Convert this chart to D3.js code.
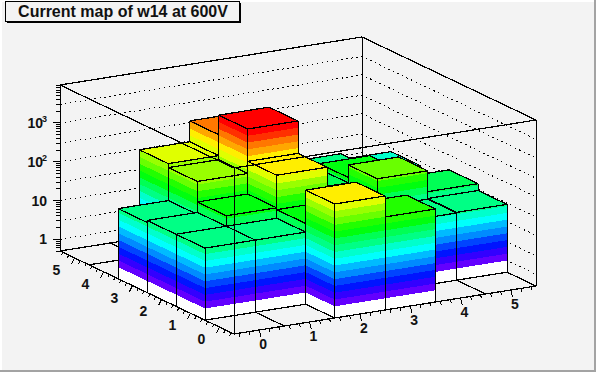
<!DOCTYPE html>
<html>
<head>
<meta charset="utf-8">
<script src="https://cdn.jsdelivr.net/npm/d3@7"></script>
<style>
	html, body { margin: 0; padding: 0; background: #f3f3f3; }
	svg { display: block; }
	text { font-family: "Liberation Sans", Arial, sans-serif; font-weight: bold; fill: #111; }
</style>
</head>
<body>
<div id="chart"></div>
<script>
var titleText = "Current map of w14 at 600V";

// bin contents, one array per x bin, y bins 0..5. zero means an empty cell
var xBins = [0, 1, 2, 3, 4, 5];
var yBins = [0, 1, 2, 3, 4, 5];
var column0 = [0, 36, 36, 32, 0, 0];
var column1 = [0, 36, 67, 226, 287, 0];
var column2 = [434, 60, 463, 3170, 993, 0];
var column3 = [125, 50, 50, 50, 40, 0];
var column4 = [0, 27, 145, 69, 34, 0];
var column5 = [0, 28, 42, 20, 24, 0];
var columns = [column0, column1, column2, column3, column4, column5];

// axes
var xTickValues = [0, 1, 2, 3, 4, 5];
var yTickValues = [0, 1, 2, 3, 4, 5];
var zMajorTicks = [1, 10, 100, 1000];
var zMajorLabels = ["1", "10", "10", "10"];
var zMajorExponents = ["", "", "2", "3"];
var zGridValues = [1, 3, 10, 30, 100, 300, 1000, 3000];
var zAxisMin = 0.5, zAxisMax = 9490;
var contourCount = 20;

var total_width = 596, total_height = 372;

// screen geometry of the box
var origin = {x: 234, y: 334},
	xEdge = {x: 302, y: -48},
	yEdge = {x: -174, y: -83},
	zHeight = 166;

var x_scale = d3.scaleLinear().domain([-0.5, 5.5]).range([0, 1]);
var y_scale = d3.scaleLinear().domain([-0.5, 5.5]).range([0, 1]);
var z_scale = d3.scaleLog().domain([zAxisMin, zAxisMax]).range([0, zHeight]);

function height_of(z) {
	return z > zAxisMin ? z_scale(z) : 0;
}

function project(x, y, z) {
	var u = x_scale(x), v = y_scale(y);
	return [
		origin.x + u * xEdge.x + v * yEdge.x,
		origin.y + u * xEdge.y + v * yEdge.y - height_of(z)
	];
}

// same palette the plot uses: 50 hues, 20 contours picked out of it
function contour_color(level) {
	var i = Math.floor((level + 0.99) * 50 / contourCount);
	return d3.hsl(280 - (i + 1) * 5.6, 1, 0.5).formatHex();
}

var zTop = d3.max(columns, function(c) { return d3.max(c); });
var logLevel = d3.scaleLinear().domain([0, contourCount]).range([0, Math.log10(zTop)]);
function contour_level(k) {
	return Math.pow(10, logLevel(k));
}

var svg = d3.select("#chart").append("svg")
	.attr("width", total_width)
	.attr("height", total_height);

// canvas with its raised border
svg.append("rect").attr("width", total_width).attr("height", total_height).attr("fill", "#f3f3f3");
svg.append("path").attr("d", "M0,0H596V2H0Z M0,0H2V372H0Z").attr("fill", "#ffffff");
svg.append("path").attr("d", "M594,0H596V372H594Z M0,370H596V372H0Z").attr("fill", "#a3a3a3");

var plot = svg.append("g").attr("shape-rendering", "crispEdges");
var line = d3.line();

function stroke_path(points, width, dash) {
	plot.append("path")
		.attr("d", line(points))
		.attr("fill", "none")
		.attr("stroke", "#000")
		.attr("stroke-width", width)
		.attr("stroke-dasharray", dash || null);
}

// box and bar edges: slanted segments come out thinner than upright ones, so give them a bit more
function edge_path(points) {
	d3.pairs(points).forEach(function(seg) {
		var upright = Math.abs(seg[0][0] - seg[1][0]) < 0.01;
		stroke_path(seg, upright ? 1 : 1.25);
	});
}

// back walls and grid
var xMin = -0.5, xMax = 5.5, yMin = -0.5, yMax = 5.5;
edge_path([project(xMin, yMax, zAxisMax), project(xMax, yMax, zAxisMax), project(xMax, yMin, zAxisMax)]);
edge_path([project(xMin, yMax, zAxisMin), project(xMax, yMax, zAxisMin), project(xMax, yMin, zAxisMin)]);
edge_path([project(xMin, yMax, zAxisMin), project(xMin, yMax, zAxisMax)]);
edge_path([project(xMax, yMax, zAxisMin), project(xMax, yMax, zAxisMax)]);
zGridValues.forEach(function(z) {
	stroke_path([project(xMin, yMax, z), project(xMax, yMax, z), project(xMax, yMin, z)], 1, "1.5 3.5");
});

// z axis ticks, log minors
var zTicks = [];
d3.range(-1, 4).forEach(function(decade) {
	d3.range(1, 10).forEach(function(m) {
		var v = m * Math.pow(10, decade);
		if (v >= zAxisMin && v <= zAxisMax) zTicks.push({v: v, major: m == 1});
	});
});
zTicks.forEach(function(t) {
	var p = project(xMin, yMax, t.v);
	stroke_path([[p[0], p[1]], [p[0] - (t.major ? 7 : 4), p[1]]], 1);
});

function face(points, color) {
	plot.append("path")
		.attr("d", line(points) + "Z")
		.attr("fill", color)
		.attr("stroke", "none");
}

function band_color_top(z) {
	var k = 0;
	while (k < contourCount - 1 && contour_level(k + 1) < z) k += 1;
	return z > contour_level(0) ? contour_color(k) : "#ffffff";
}

// one side of a bar, painted in contour bands, from p to q along the floor
function draw_side(x0, y0, x1, y1, z) {
	face([project(x0, y0, zAxisMin), project(x1, y1, zAxisMin),
		project(x1, y1, Math.min(z, contour_level(0))), project(x0, y0, Math.min(z, contour_level(0)))], "#ffffff");
	d3.range(contourCount).forEach(function(k) {
		var low = contour_level(k), high = Math.min(contour_level(k + 1), z);
		if (low >= z) return;
		face([project(x0, y0, low), project(x1, y1, low), project(x1, y1, high), project(x0, y0, high)], contour_color(k));
	});
	edge_path([project(x0, y0, zAxisMin), project(x0, y0, z), project(x1, y1, z), project(x1, y1, zAxisMin), project(x0, y0, zAxisMin)]);
}

// paint from the far corner to the near one
xBins.slice().reverse().forEach(function(ix) {
	yBins.slice().reverse().forEach(function(iy) {
		var z = columns[ix][iy];
		var x0 = ix - 0.5, x1 = ix + 0.5, y0 = iy - 0.5, y1 = iy + 0.5;
		var top = [project(x0, y0, z), project(x1, y0, z), project(x1, y1, z), project(x0, y1, z), project(x0, y0, z)];
		if (z > 0) {
			draw_side(x0, y1, x0, y0, z);
			draw_side(x0, y0, x1, y0, z);
			face(top, band_color_top(z));
		}
		edge_path(top);
	});
});

// front of the box goes on top of the bars
edge_path([project(xMin, yMax, zAxisMax), project(xMin, yMin, zAxisMax), project(xMax, yMin, zAxisMax), project(xMax, yMin, zAxisMin)]);
edge_path([project(xMin, yMin, zAxisMax), project(xMin, yMin, zAxisMin)]);
edge_path([project(xMin, yMax, zAxisMin), project(xMin, yMin, zAxisMin), project(xMax, yMin, zAxisMin)]);

// x axis ticks and labels
d3.range(-0.4, 5.5, 0.2).forEach(function(v) {
	var p = project(v, yMin, zAxisMin);
	var major = Math.abs(v - Math.round(v)) < 0.01;
	stroke_path([p, [p[0] + (major ? 1.8 : 0.8), p[1] + (major ? 7 : 3.5)]], 1);
});
xTickValues.forEach(function(v) {
	var p = project(v, yMin, zAxisMin);
	svg.append("text").attr("x", p[0] + 4).attr("y", p[1] + 19)
		.attr("text-anchor", "middle").attr("font-size", 14).text(v);
});

// y axis ticks and labels
d3.range(-0.4, 5.5, 0.2).forEach(function(v) {
	var p = project(xMin, v, zAxisMin);
	var major = Math.abs(v - Math.round(v)) < 0.01;
	stroke_path([p, [p[0] - (major ? 3 : 1.5), p[1] + (major ? 6 : 3)]], 1);
});
yTickValues.forEach(function(v) {
	var p = project(xMin, v, zAxisMin);
	svg.append("text").attr("x", p[0] - 18).attr("y", p[1] + 17)
		.attr("text-anchor", "middle").attr("font-size", 14).text(v);
});

// z labels
zMajorTicks.forEach(function(v, i) {
	var p = project(xMin, yMax, v);
	var exponent = zMajorExponents[i];
	svg.append("text").attr("x", p[0] - 13 - (exponent ? 4 : 0)).attr("y", p[1] + 5)
		.attr("text-anchor", "end").attr("font-size", 14).text(zMajorLabels[i]);
	if (exponent) {
		svg.append("text").attr("x", p[0] - 13).attr("y", p[1] - 1)
			.attr("text-anchor", "end").attr("font-size", 9).text(exponent);
	}
});

// title box with its shadow
svg.append("rect").attr("x", 7).attr("y", 3).attr("width", 234).attr("height", 20).attr("fill", "#000").attr("shape-rendering", "crispEdges");
svg.append("rect").attr("x", 5.5).attr("y", 1.5).attr("width", 234).attr("height", 20)
	.attr("fill", "#f3f3f3").attr("stroke", "#000").attr("stroke-width", 1).attr("shape-rendering", "crispEdges");
svg.append("text").attr("x", 123).attr("y", 17).attr("text-anchor", "middle")
	.attr("font-size", 16).text(titleText);
</script>
</body>
</html>
